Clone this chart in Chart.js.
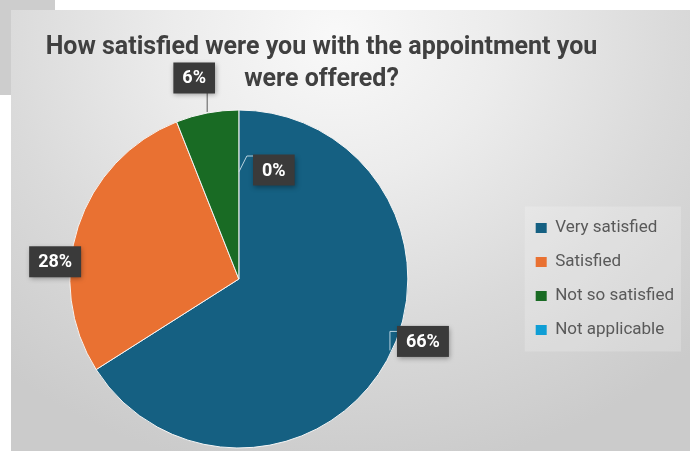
<!DOCTYPE html>
<html>
<head>
<meta charset="utf-8">
<script src="https://cdn.jsdelivr.net/npm/chart.js@4.4.1/dist/chart.umd.min.js"></script>
<style>
  html, body { margin: 0; padding: 0; background: #ffffff; width: 695px; height: 451px; overflow: hidden; }
  #grey { position: absolute; left: 0; top: 0; width: 55px; height: 95px; background: #cdcdcd; }
  #panel { position: absolute; left: 11px; top: 10px; width: 679px; height: 441px;
    background: radial-gradient(ellipse 75% 100% at 48% 6%, #f9f9f9 0%, #ececec 32%, #dadada 66%, #cbcbcb 100%); }
  #wrap { position: absolute; left: -41px; top: 0; width: 725px; height: 451px; }
</style>
</head>
<body>
<div id="grey"></div>
<div id="panel"></div>
<div id="wrap"><canvas id="pie"></canvas></div>
<script>
// data
var categories = ['Very satisfied', 'Satisfied', 'Not so satisfied', 'Not applicable'];
var percents = [66, 28, 6, 0];
var colours = ['#156082', '#E97132', '#196B24', '#0F9ED5'];

// where each value box sits relative to the middle of its slice edge, plus leader lines
var labelOffsets = [
    { dx: 36, dy: -19, line: [[-33, 9], [-33, -10], [-25, -10]] },
    { dx: -23, dy: 35, line: null },
    { dx: -13, dy: -35, line: [[13, 15], [13, 34]] },
    { dx: 35, dy: 60, line: [[-35, 2], [-27, -14], [-19, -14]] }
];

Chart.defaults.font.family = 'Roboto';

// light box behind the legend
var legendBox = {
    id: 'legendBox',
    beforeDraw: function (chart) {
        var lg = chart.legend;
        if (!lg || !lg.legendHitBoxes.length) return;
        var hb = lg.legendHitBoxes;
        var w = 0;
        hb.forEach(function (h) { w = Math.max(w, h.width); });
        var ctx = chart.ctx;
        ctx.save();
        ctx.fillStyle = 'rgba(255,255,255,0.2)';
        var top = hb[0].top - 13;
        ctx.fillRect(hb[0].left - 11, top, w + 18, hb[hb.length - 1].top + hb[0].height + 13 - top);
        ctx.restore();
    }
};

// dark value boxes like the original
var valueBoxes = {
    id: 'valueBoxes',
    afterDatasetsDraw: function (chart) {
        var ctx = chart.ctx;
        var arcs = chart.getDatasetMeta(0).data;
        ctx.save();
        ctx.font = 'bold 18px Roboto';
        arcs.forEach(function (arc, i) {
            var p = arc.getProps(['x', 'y', 'startAngle', 'endAngle', 'outerRadius'], true);
            var mid = (p.startAngle + p.endAngle) / 2;
            var cx = p.x + Math.cos(mid) * p.outerRadius + labelOffsets[i].dx;
            var cy = p.y + Math.sin(mid) * p.outerRadius + labelOffsets[i].dy;
            var txt = percents[i] + '%';
            var w = ctx.measureText(txt).width + 18;
            var h = 31;
            var ln = labelOffsets[i].line;
            if (ln) {
                ctx.strokeStyle = i == 2 ? '#5a5a5a' : '#b9d3e0';
                ctx.lineWidth = 1;
                ctx.beginPath();
                ln.forEach(function (pt, k) {
                    if (k == 0) ctx.moveTo(cx + pt[0], cy + pt[1]);
                    else ctx.lineTo(cx + pt[0], cy + pt[1]);
                });
                ctx.stroke();
            }
            ctx.shadowColor = 'rgba(0,0,0,0.35)';
            ctx.shadowBlur = 5;
            ctx.shadowOffsetX = 1;
            ctx.shadowOffsetY = 2;
            ctx.fillStyle = '#3a3a3a';
            ctx.fillRect(cx - w / 2, cy - h / 2, w, h);
            ctx.shadowColor = 'transparent';
            ctx.fillStyle = '#ffffff';
            ctx.textAlign = 'center';
            ctx.textBaseline = 'middle';
            ctx.fillText(txt, cx, cy + 1);
        });
        ctx.restore();
    }
};

var config = {
    type: 'pie',
    data: {
        labels: categories,
        datasets: [{
            data: percents,
            backgroundColor: colours,
            borderColor: '#f4f4f4',
            borderWidth: 1,
            radius: 169
        }]
    },
    options: {
        responsive: true,
        maintainAspectRatio: false,
        animation: false,
        layout: { padding: 0 },
        plugins: {
            title: {
                display: true,
                text: ['How satisfied were you with the appointment you', 'were offered?'],
                color: '#404040',
                font: { size: 25, weight: 'bold', lineHeight: 1.28 },
                padding: { top: 32, bottom: 11 }
            },
            legend: {
                position: 'right',
                fullSize: false,
                labels: {
                    color: '#595959',
                    font: { size: 17 },
                    boxWidth: 11,
                    boxHeight: 10,
                    padding: 17,
                    generateLabels: function (chart) {
                        return categories.map(function (c, i) {
                            return { text: c, fillStyle: colours[i], strokeStyle: colours[i], lineWidth: 0, hidden: false, index: i, fontColor: '#595959' };
                        });
                    }
                }
            },
            tooltip: { enabled: false }
        }
    },
    plugins: [legendBox, valueBoxes]
};

var myPie = new Chart(document.getElementById('pie'), config);
</script>
</body>
</html>
